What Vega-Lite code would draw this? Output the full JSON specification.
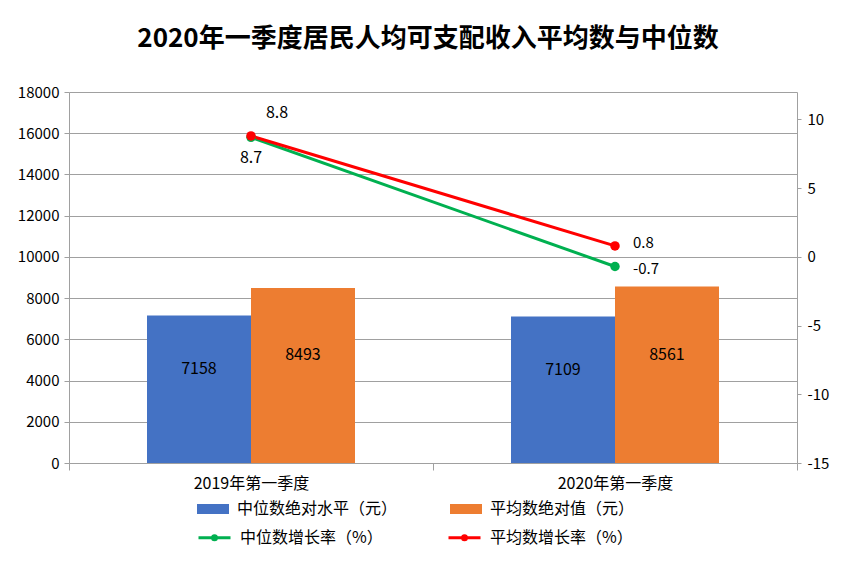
{
  "$schema": "https://vega.github.io/schema/vega-lite/v6.json",
  "width": 728,
  "height": 371,
  "autosize": {"type": "none"},
  "padding": {"left": 69, "top": 92, "right": 53, "bottom": 103},
  "background": "white",
  "title": {"text": "2020年一季度居民人均可支配收入平均数与中位数", "fontSize": 26, "fontWeight": "bold", "font": "Noto Sans CJK SC", "color": "#000000", "anchor": "middle", "offset": 33, "dx": -5},
  "config": {"view": {"stroke": null}, "font": "Noto Sans CJK SC"},
  "datasets": {
    "amount": [
      {"quarter": "2019年第一季度", "series": "中位数绝对水平（元）", "value": 7158},
      {"quarter": "2019年第一季度", "series": "平均数绝对值（元）", "value": 8493},
      {"quarter": "2020年第一季度", "series": "中位数绝对水平（元）", "value": 7109},
      {"quarter": "2020年第一季度", "series": "平均数绝对值（元）", "value": 8561}
    ],
    "rate": [
      {"quarter": "2019年第一季度", "series": "中位数增长率（%）", "rate": 8.7},
      {"quarter": "2020年第一季度", "series": "中位数增长率（%）", "rate": -0.7},
      {"quarter": "2019年第一季度", "series": "平均数增长率（%）", "rate": 8.8},
      {"quarter": "2020年第一季度", "series": "平均数增长率（%）", "rate": 0.8}
    ]
  },
  "layer": [
    {
      "data": {"name": "amount"},
      "mark": {"type": "bar"},
      "encoding": {
        "x": {"field": "quarter", "type": "nominal", "sort": null, "scale": {"paddingInner": 0, "paddingOuter": 0},
          "axis": {"title": null, "labelAngle": 0, "labelFontSize": 16, "labelColor": "#000000", "tickBand": "extent", "tickColor": "#A0A0A0", "tickSize": 7, "domainColor": "#A0A0A0", "labelPadding": 5, "grid": false}},
        "xOffset": {"field": "series", "type": "nominal", "sort": null, "scale": {"domain": ["中位数绝对水平（元）", "平均数绝对值（元）"], "paddingInner": 0, "paddingOuter": 0.75}},
        "y": {"field": "value", "type": "quantitative", "scale": {"domain": [0, 18000], "nice": false},
          "axis": {"orient": "left", "title": null, "values": [0, 2000, 4000, 6000, 8000, 10000, 12000, 14000, 16000, 18000], "format": "d", "grid": true, "gridColor": "#A0A0A0", "domainColor": "#A0A0A0", "tickColor": "#A0A0A0", "labelFontSize": 15, "labelColor": "#000000", "tickSize": 5, "labelPadding": 5}},
        "fill": {"field": "series", "type": "nominal", "sort": null,
          "scale": {"domain": ["中位数绝对水平（元）", "平均数绝对值（元）"], "range": ["#4472C4", "#ED7D31"]},
          "legend": {"title": null, "orient": "none", "legendX": 134, "legendY": 407, "direction": "horizontal", "columns": 2, "columnPadding": 52, "symbolType": "M-1.6,-0.5H1.6V0.5H-1.6Z", "symbolSize": 400, "symbolStrokeWidth": 0, "labelFontSize": 16, "labelFont": "Noto Sans CJK SC", "labelColor": "#000000", "labelOffset": 14, "labelLimit": 400}}
      }
    },
    {
      "data": {"name": "amount"},
      "mark": {"type": "text", "fontSize": 16, "color": "#000000", "dy": -20},
      "encoding": {
        "x": {"field": "quarter", "type": "nominal", "sort": null, "scale": {"paddingInner": 0, "paddingOuter": 0},
          "axis": {"title": null, "labelAngle": 0, "labelFontSize": 16, "labelColor": "#000000", "tickBand": "extent", "tickColor": "#A0A0A0", "tickSize": 7, "domainColor": "#A0A0A0", "labelPadding": 5, "grid": false}},
        "xOffset": {"field": "series", "type": "nominal", "sort": null, "scale": {"domain": ["中位数绝对水平（元）", "平均数绝对值（元）"], "paddingInner": 0, "paddingOuter": 0.75}},
        "y": {"field": "value", "type": "quantitative", "scale": {"domain": [0, 36000], "nice": false}, "axis": null},
        "text": {"field": "value", "type": "nominal"}
      }
    },
    {
      "data": {"name": "rate"},
      "encoding": {
        "x": {"field": "quarter", "type": "nominal", "sort": null, "scale": {"paddingInner": 0, "paddingOuter": 0},
          "axis": {"title": null, "labelAngle": 0, "labelFontSize": 16, "labelColor": "#000000", "tickBand": "extent", "tickColor": "#A0A0A0", "tickSize": 7, "domainColor": "#A0A0A0", "labelPadding": 5, "grid": false}},
        "y": {"field": "rate", "type": "quantitative", "scale": {"domain": [-15, 12], "nice": false},
          "axis": {"orient": "right", "title": null, "values": [-15, -10, -5, 0, 5, 10], "labelExpr": "'' + datum.value", "grid": false, "domainColor": "#A0A0A0", "tickColor": "#A0A0A0", "labelFontSize": 15, "labelColor": "#000000", "tickSize": 4, "labelPadding": 6}}
      },
      "layer": [
        {
          "mark": {"type": "line", "strokeWidth": 3, "point": {"filled": true, "size": 90}},
          "encoding": {
            "color": {"field": "series", "type": "nominal", "sort": null,
              "scale": {"domain": ["中位数增长率（%）", "平均数增长率（%）"], "range": ["#00B050", "#FF0000"]},
              "legend": {"title": null, "orient": "none", "legendX": 134, "legendY": 434, "direction": "horizontal", "columns": 2, "columnPadding": 59, "symbolType": "M-1.6,0H1.6M0.2,0A0.2,0.2,0,1,1,-0.2,0A0.2,0.2,0,1,1,0.2,0", "symbolSize": 400, "symbolStrokeWidth": 3, "labelFontSize": 16, "labelFont": "Noto Sans CJK SC", "labelColor": "#000000", "labelOffset": 14, "labelLimit": 400}}
          }
        },
        {
          "transform": [{"filter": "datum.series === '平均数增长率（%）' && datum.quarter === '2019年第一季度'"}],
          "mark": {"type": "text", "fontSize": 16, "color": "#000000", "dx": 26, "dy": -23},
          "encoding": {"text": {"field": "rate", "type": "nominal"}}
        },
        {
          "transform": [{"filter": "datum.series === '中位数增长率（%）' && datum.quarter === '2019年第一季度'"}],
          "mark": {"type": "text", "fontSize": 16, "color": "#000000", "dx": 0, "dy": 21},
          "encoding": {"text": {"field": "rate", "type": "nominal"}}
        },
        {
          "transform": [{"filter": "datum.series === '平均数增长率（%）' && datum.quarter === '2020年第一季度'"}],
          "mark": {"type": "text", "fontSize": 15, "color": "#000000", "dx": 18, "dy": -3, "align": "left"},
          "encoding": {"text": {"field": "rate", "type": "nominal"}}
        },
        {
          "transform": [{"filter": "datum.series === '中位数增长率（%）' && datum.quarter === '2020年第一季度'"}],
          "mark": {"type": "text", "fontSize": 15, "color": "#000000", "dx": 18, "dy": 2, "align": "left"},
          "encoding": {"text": {"field": "rate", "type": "nominal"}}
        }
      ]
    }
  ],
  "resolve": {"scale": {"y": "independent"}}
}
